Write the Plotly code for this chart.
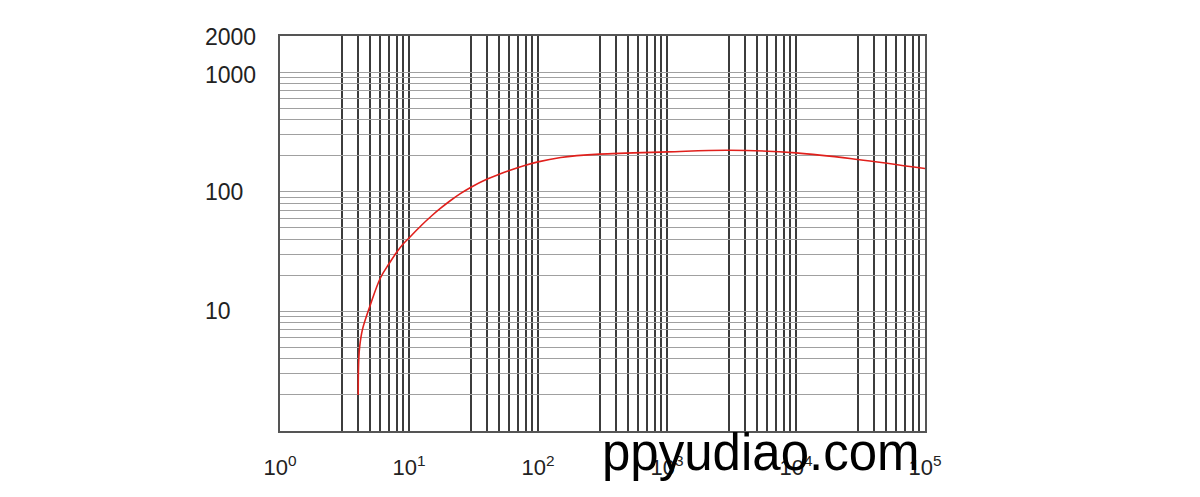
import math
import plotly.graph_objects as go

# ---- data ----
curve_x = [4.04, 4.05, 4.08, 4.14, 4.35, 5.0, 6.0, 7.0, 8.0, 9.0, 10.0,
           12.5, 15.0, 17.4, 21.0, 25.0, 30.0, 40.0, 50.0, 60.0, 80.0, 100.0,
           150.0, 200.0, 300.0, 1000.0, 3000.0, 10000.0, 30000.0, 100000.0]
curve_y = [2.0, 3.0, 4.0, 5.0, 7.0, 11.2, 19.0, 25.0, 31.0, 36.5, 41.0,
           52.4, 62.9, 72.1, 84.4, 96.2, 108.5, 127.0, 140.0, 150.5, 166.5, 177.5,
           193.0, 200.0, 206.0, 215.0, 222.0, 211.0, 186.0, 156.0]

x_decades = [1, 10, 100, 1000, 10000, 100000]
x_decade_labels = ["10<sup>0</sup>", "10<sup>1</sup>", "10<sup>2</sup>",
                   "10<sup>3</sup>", "10<sup>4</sup>", "10<sup>5</sup>"]
x_grid_mult = [3, 4, 5, 6, 7, 8, 9]

y_grid_mult = [2, 3, 4, 5, 6, 7, 8, 9]
y_decades = [1, 10, 100, 1000]
y_label_vals = [2000, 1000, 100, 10]
y_label_text = ["2000", "1000", "100", "10"]

watermark = "ppyudiao.com"

# ---- build tick/grid arrays ----
x_tickvals, x_ticktext = [], []
for i, d in enumerate(x_decades):
    x_tickvals.append(d)
    x_ticktext.append(x_decade_labels[i])
    if d < x_decades[-1]:
        for m in x_grid_mult:
            x_tickvals.append(d * m)
            x_ticktext.append("")

y_tickvals = []
for d in y_decades:
    for m in y_grid_mult:
        y_tickvals.append(d * m)
    y_tickvals.append(d * 10)

FONT = "Liberation Sans, Arial, sans-serif"

fig = go.Figure()
fig.add_trace(go.Scatter(
    x=curve_x, y=curve_y, mode="lines",
    line=dict(color="#e0201c", width=1.6, shape="spline", smoothing=1.0),
    hoverinfo="skip", showlegend=False,
))

for v, t in zip(y_label_vals, y_label_text):
    fig.add_annotation(
        x=-0.1195, xref="paper", xanchor="left",
        y=math.log10(v), yref="y", yanchor="middle",
        text=t, showarrow=False,
        font=dict(family=FONT, size=23, color="#222222"),
        yshift=-3 if v == 1000 else (-1 if v == 2000 else 0),
    )

fig.add_annotation(
    x=0.7465, xref="paper", xanchor="center",
    y=-0.055, yref="paper", yanchor="middle",
    text=watermark, showarrow=False,
    font=dict(family=FONT, size=51, color="#000000"),
)

fig.update_layout(
    width=1200, height=497,
    margin=dict(l=272, r=283, t=28, b=74),
    paper_bgcolor="white", plot_bgcolor="white",
    font=dict(family=FONT, color="#222222"),
    showlegend=False,
    xaxis=dict(
        type="log", range=[0, 5],
        tickmode="array", tickvals=x_tickvals, ticktext=x_ticktext,
        showgrid=True, gridcolor="#3c3c3c", gridwidth=1.6,
        showline=True, linecolor="#555555", linewidth=1.5, mirror=True,
        ticks="", zeroline=False,
        tickfont=dict(family=FONT, size=22, color="#222222"),
        ticklabelstandoff=16,
    ),
    yaxis=dict(
        type="log", range=[0, 3.30103],
        tickmode="array", tickvals=y_tickvals,
        showticklabels=False,
        showgrid=True, gridcolor="#a0a0a0", gridwidth=1,
        showline=True, linecolor="#555555", linewidth=1.5, mirror=True,
        ticks="", zeroline=False,
    ),
)

fig.write_html("out.html")
